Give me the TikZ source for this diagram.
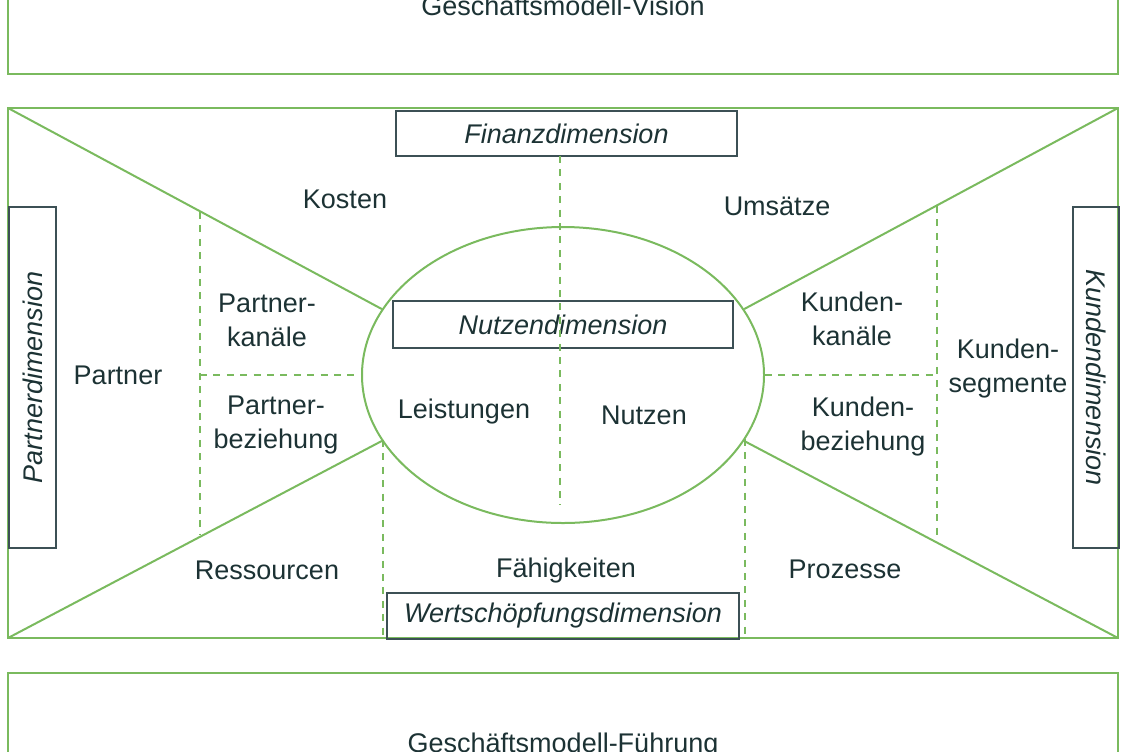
\documentclass[tikz,border=0pt]{standalone}
\usepackage{fontspec}
\setmainfont{Liberation Sans}
\usetikzlibrary{shapes.geometric}
\definecolor{linegreen}{RGB}{122,186,94}
\definecolor{textdark}{RGB}{28,50,52}
\definecolor{boxdark}{RGB}{60,80,85}
\begin{document}
\begin{tikzpicture}
[x=0.5pt,y=-0.5pt,font=\fontsize{13.5}{17}\selectfont,text=textdark,%
  framedecorate/.style={draw=linegreen,line width=1pt},%
  ovaldecorate/.style={shape=ellipse,draw=linegreen,line width=1pt,inner sep=0pt,%
    minimum width=201pt,minimum height=148pt},%
  dimdecorate/.style={shape=rectangle,draw=boxdark,line width=0.75pt,inner sep=0pt,%
    font=\fontsize{13.5}{17}\selectfont\itshape},%
  labeldecorate/.style={align=center,inner sep=0pt},%
  linedecorate/.style={-,draw=linegreen,line width=1pt},%
  dashdecorate/.style={-,draw=linegreen,line width=1.4pt,dash pattern=on 3.5pt off 3.2pt}]
\useasboundingbox (0,0) rectangle (1128,751);
%% frames
\coordinate (nw) at (8,108);
\coordinate (ne) at (1118,108);
\coordinate (sw) at (8,638);
\coordinate (se) at (1118,638);
\draw[framedecorate] (8,-60) rectangle (1118,74);
\draw[framedecorate] (nw) rectangle (se);
\draw[framedecorate] (8,673) rectangle (1118,820);
\node (vision) at (563,15) [anchor=base] {Geschäftsmodell-Vision};
\node (fuehrung) at (563,752) [anchor=base] {Geschäftsmodell-Führung};
%% center oval
\node (ell) at (563,375) [ovaldecorate] {};
%% dimension boxes
\node (fin) at (566.5,133.5) [dimdecorate,minimum width=170.5pt,minimum height=22.5pt] {Finanzdimension};
\node (nutz) at (563,324.5) [dimdecorate,minimum width=170pt,minimum height=23.5pt] {Nutzendimension};
\node (wert) at (563,616) [dimdecorate,minimum width=176pt,minimum height=23pt] {Wertschöpfungsdimension};
\node (partdim) at (32.5,377.5) [dimdecorate,rotate=90,minimum width=170.5pt,minimum height=23.5pt] {Partnerdimension};
\node (kunddim) at (1096,377.5) [dimdecorate,rotate=-90,minimum width=170.5pt,minimum height=23pt] {Kundendimension};
%% labels
\foreach \nodename/\x/\y/\txt in {kosten/345/199/Kosten, umsaetze/777/206/Umsätze,
  partner/118/375/Partner, pkanal/267/320/Partner-\\kanäle, pbez/276/425/Partner-\\beziehung,
  kkanal/852/319/Kunden-\\kanäle, kseg/1008/369/Kunden-\\segmente, kbez/863/427/Kunden-\\beziehung,
  leist/464/412/Leistungen, nutzen/644/415/Nutzen,
  ress/267/570/Ressourcen, faeh/566/571/Fähigkeiten, proz/845/569/Prozesse} {
  \node (\nodename) at (\x,\y) [labeldecorate] {\txt};
}
%% dashed dividers
\coordinate (ftop) at (560,156);
\coordinate (fbot) at (560,505);
\coordinate (ptop) at (200,212);
\coordinate (pmid) at (200,375);
\coordinate (pbot) at (200,534);
\coordinate (ktop) at (937,206);
\coordinate (kmid) at (937,375);
\coordinate (kbot) at (937,536);
\coordinate (rtop) at (383,440);
\coordinate (rbot) at (383,638);
\coordinate (wtop) at (745,439);
\coordinate (wbot) at (745,638);
%% edges or lines
\path
\foreach \startnode/\endnode in {nw/ell.160, ne/ell.20, sw/ell.200, se/ell.340} {
  (\startnode) edge[linedecorate] (\endnode)
};
\path
\foreach \startnode/\endnode in {ftop/fbot, ptop/pbot, pmid/ell.west, ktop/kbot,
  ell.east/kmid, rtop/rbot, wtop/wbot} {
  (\startnode) edge[dashdecorate] (\endnode)
};
\end{tikzpicture}
\end{document}
